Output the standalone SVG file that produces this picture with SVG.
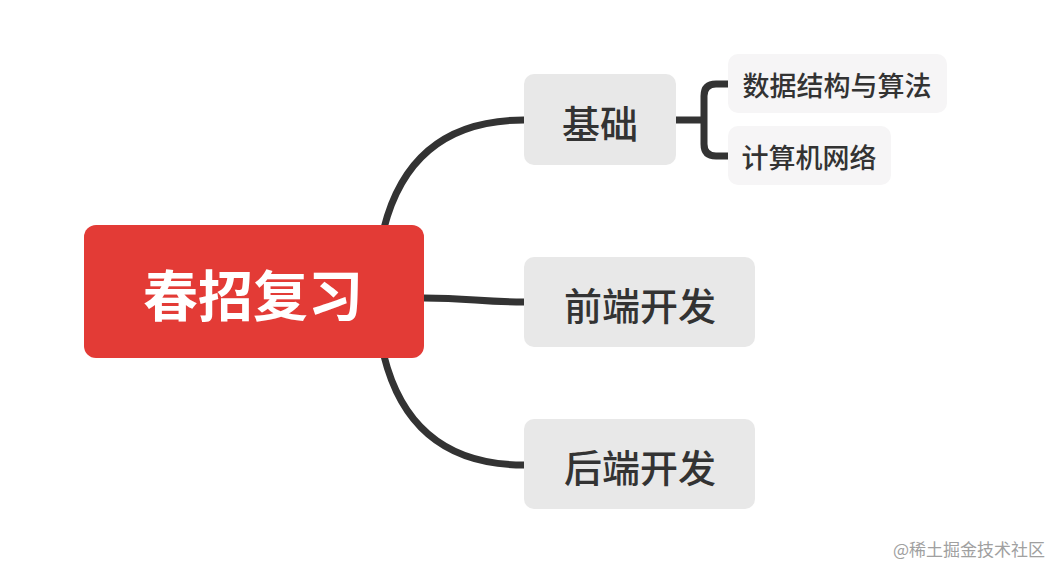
<svg xmlns="http://www.w3.org/2000/svg" width="1064" height="574" viewBox="0 0 1064 574">
<style>
.t{font-family:"Noto Sans CJK SC","Noto Sans",sans-serif;dominant-baseline:central;text-anchor:middle;font-weight:500}
.sub{fill:#E8E8E8}
.leaf{fill:#F6F5F6}
.c{fill:none;stroke:#333333;stroke-width:7;stroke-linecap:butt}
</style>
<rect width="1064" height="574" fill="#FFFFFF"/>
<g id="connectors">
<path class="c" d="M384,228 C400,165 440,120 524,120"/>
<path class="c" d="M424,298 C470,298 480,302 524,302"/>
<path class="c" d="M384,356 C400,420 440,465 524,465"/>
<path class="c" d="M676,120 H704"/>
<path class="c" d="M728,84 H716 Q704,84 704,96 V144 Q704,156 716,156 H728"/>
</g>
<g id="root">
<rect x="84" y="225" width="340" height="133" rx="12" fill="#E33B36"/>
<text class="t" x="253" y="292" font-size="55" font-weight="bold" fill="#FFFFFF" style="font-weight:bold">春招复习</text>
</g>
<g id="jichu">
<rect class="sub" x="524" y="74" width="152" height="91" rx="10"/>
<text class="t" x="600" y="121" font-size="38" fill="#333333">基础</text>
</g>
<g id="qianduan">
<rect class="sub" x="524" y="257" width="231" height="90" rx="10"/>
<text class="t" x="640" y="303" font-size="38" fill="#333333">前端开发</text>
</g>
<g id="houduan">
<rect class="sub" x="524" y="419" width="231" height="90" rx="10"/>
<text class="t" x="640" y="465" font-size="38" fill="#333333">后端开发</text>
</g>
<g id="shuju">
<rect class="leaf" x="728" y="54" width="219" height="59" rx="10"/>
<text class="t" x="837" y="84" font-size="27" fill="#333333">数据结构与算法</text>
</g>
<g id="wangluo">
<rect class="leaf" x="728" y="126" width="163" height="59" rx="10"/>
<text class="t" x="809" y="156" font-size="27" fill="#333333">计算机网络</text>
</g>
<text x="1045" y="548" font-family="'Noto Sans CJK SC',sans-serif" font-size="17" fill="#A0A0A0" text-anchor="end" dominant-baseline="central">@稀土掘金技术社区</text>
</svg>
